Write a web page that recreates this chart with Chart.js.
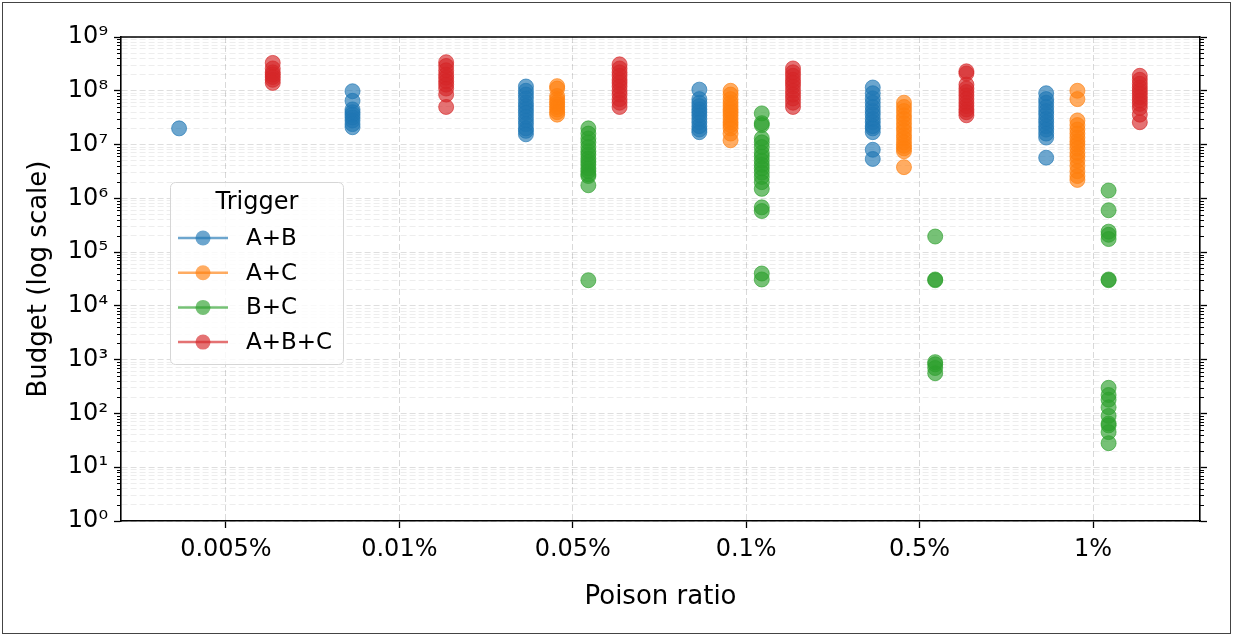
<!DOCTYPE html>
<html>
<head>
<meta charset="utf-8">
<script src="https://cdn.jsdelivr.net/npm/chart.js@4.4.1/dist/chart.umd.min.js"></script>
<style>
  body { margin: 0; background: #fff; }
</style>
</head>
<body>
<canvas id="chart" width="1233" height="635"></canvas>
<script>
var categories = ["0.005%", "0.01%", "0.05%", "0.1%", "0.5%", "1%"];
var triggers = ["A+B", "A+C", "B+C", "A+B+C"];
var yTickLabels = ["10\u2070", "10\u00b9", "10\u00b2", "10\u00b3", "10\u2074", "10\u2075", "10\u2076", "10\u2077", "10\u2078", "10\u2079"];

// budget values per poison ratio (one inner list per category)
var budgetAB = [
  [2.0e7],
  [9.8e7, 6.5e7, 4.5e7, 4.0e7, 3.6e7, 3.2e7, 2.8e7, 2.4e7, 2.1e7],
  [1.2e8, 1.0e8, 8.5e7, 7.2e7, 6.0e7, 5.2e7, 4.5e7, 3.9e7, 3.3e7, 2.8e7, 2.4e7, 2.0e7, 1.8e7, 1.55e7],
  [1.05e8, 7.0e7, 6.0e7, 5.2e7, 4.5e7, 4.0e7, 3.5e7, 3.0e7, 2.6e7, 2.2e7, 1.9e7, 1.7e7],
  [1.15e8, 9.0e7, 7.2e7, 6.0e7, 5.0e7, 4.2e7, 3.6e7, 3.0e7, 2.6e7, 2.2e7, 2.0e7, 1.7e7, 8.0e6, 5.4e6],
  [9.0e7, 7.0e7, 6.0e7, 5.0e7, 4.2e7, 3.6e7, 3.0e7, 2.6e7, 2.2e7, 1.9e7, 1.6e7, 1.35e7, 5.7e6]
];
var budgetAC = [
  [],
  [],
  [1.22e8, 1.1e8, 8.0e7, 7.0e7, 6.2e7, 5.6e7, 5.0e7, 4.5e7, 4.0e7, 3.6e7],
  [1.0e8, 8.5e7, 7.0e7, 6.0e7, 5.2e7, 4.5e7, 4.0e7, 3.5e7, 3.0e7, 2.6e7, 2.3e7, 2.0e7, 1.6e7, 1.2e7],
  [6.0e7, 5.0e7, 4.2e7, 3.5e7, 3.0e7, 2.5e7, 2.1e7, 1.8e7, 1.5e7, 1.3e7, 1.1e7, 9.5e6, 8.5e6, 7.5e6, 3.8e6],
  [1.0e8, 7.0e7, 2.8e7, 2.3e7, 1.9e7, 1.6e7, 1.35e7, 1.15e7, 1.0e7, 8.5e6, 7.0e6, 6.0e6, 5.0e6, 4.0e6, 3.2e6, 2.6e6, 2.2e6]
];
var budgetBC = [
  [],
  [],
  [2.0e7, 1.6e7, 1.3e7, 1.1e7, 9.0e6, 7.5e6, 6.5e6, 5.5e6, 4.8e6, 4.2e6, 3.6e6, 3.2e6, 2.8e6, 2.6e6, 1.75e6, 3.0e4],
  [3.8e7, 2.5e7, 2.3e7, 1.3e7, 1.1e7, 9.0e6, 7.0e6, 6.0e6, 5.0e6, 4.2e6, 3.6e6, 3.0e6, 2.5e6, 2.0e6, 1.5e6, 6.8e5, 5.8e5, 4.0e4, 3.1e4],
  [1.95e5, 3.1e4, 3.0e4, 900, 820, 700, 560],
  [1.4e6, 6.0e5, 2.4e5, 2.1e5, 1.75e5, 3.1e4, 3.0e4, 300, 220, 180, 130, 90, 65, 60, 45, 28]
];
var budgetABC = [
  [3.3e8, 2.6e8, 2.2e8, 2.0e8, 1.8e8, 1.6e8, 1.4e8],
  [3.4e8, 2.9e8, 2.4e8, 2.0e8, 1.75e8, 1.5e8, 1.3e8, 1.1e8, 8.5e7, 5.0e7],
  [3.1e8, 2.6e8, 2.2e8, 1.9e8, 1.6e8, 1.4e8, 1.2e8, 1.0e8, 8.5e7, 7.0e7, 6.0e7, 5.0e7],
  [2.6e8, 2.2e8, 1.9e8, 1.6e8, 1.4e8, 1.2e8, 1.0e8, 8.5e7, 7.2e7, 6.0e7, 5.0e7],
  [2.3e8, 2.1e8, 1.3e8, 1.1e8, 9.5e7, 8.2e7, 7.0e7, 6.0e7, 5.2e7, 4.5e7, 4.0e7, 3.5e7],
  [1.9e8, 1.6e8, 1.35e8, 1.15e8, 1.0e8, 8.8e7, 7.6e7, 6.6e7, 5.7e7, 4.8e7, 3.6e7, 2.6e7]
];

var series = [budgetAB, budgetAC, budgetBC, budgetABC];
var colors = ["31,119,180", "255,127,14", "44,160,44", "214,39,40"];
var dodge = 0.18;
var FONT = "'DejaVu Sans', sans-serif";

Chart.defaults.font.family = FONT;
Chart.defaults.color = "#000";

//Spread the four triggers side by side inside each category
var datasets = [];
for(var j = 0; j < series.length; j++) {
  var pts = [];
  for(var i = 0; i < categories.length; i++) {
    for(var k = 0; k < series[j][i].length; k++) {
      pts.push({x: i + (j - 1.5) * dodge, y: series[j][i][k]});
    }
  }
  datasets.push({
    label: triggers[j],
    data: pts,
    backgroundColor: "rgba(" + colors[j] + ",0.65)",
    borderColor: "rgba(" + colors[j] + ",0.65)",
    borderWidth: 1,
    pointRadius: 7.5
  });
}

//log ticks 1..9 per decade, like matplotlib minor ticks
function logTicks(scale) {
  var t = [];
  for(var e = 0; e < 9; e++) {
    for(var m = 1; m < 10; m++) {
      t.push({value: m * Math.pow(10, e), major: m == 1});
    }
  }
  t.push({value: 1e9, major: true});
  scale.ticks = t;
}

function gridColor(ctx) {
  if(ctx.tick && ctx.tick.major) return "rgba(0,0,0,0.13)";
  return "rgba(0,0,0,0.07)";
}

function majorTickColor(ctx) {
  return ctx.tick && ctx.tick.major ? "#000" : "rgba(0,0,0,0)";
}

//box, minor ticks, figure frame and legend
var extras = {
  id: "extras",
  afterDraw: function(chart) {
    var ctx = chart.ctx;
    var a = chart.chartArea;
    var y = chart.scales.y;
    ctx.save();

    ctx.strokeStyle = "#000";
    ctx.lineWidth = 1;
    for(var i = 0; i < y.ticks.length; i++) {
      if(y.ticks[i].major) continue;
      var py = Math.round(y.getPixelForValue(y.ticks[i].value)) + 0.5;
      ctx.beginPath();
      ctx.moveTo(a.left - 4, py); ctx.lineTo(a.left, py);
      ctx.moveTo(a.right, py); ctx.lineTo(a.right + 4, py);
      ctx.stroke();
    }

    ctx.lineWidth = 1.6;
    ctx.beginPath();
    ctx.moveTo(a.left, a.top);
    ctx.lineTo(a.right, a.top);
    ctx.stroke();

    ctx.lineWidth = 1;
    ctx.strokeStyle = "#444";
    ctx.strokeRect(2.5, 2.5, 1228, 631);

    // legend
    var lx = 170, ly = 182, lw = 173, lh = 182;
    ctx.beginPath();
    ctx.roundRect(lx + 0.5, ly + 0.5, lw, lh, 5);
    ctx.fillStyle = "rgba(255,255,255,0.8)";
    ctx.fill();
    ctx.strokeStyle = "#d6d6d6";
    ctx.stroke();

    ctx.fillStyle = "#000";
    ctx.font = "24px " + FONT;
    ctx.textAlign = "center";
    ctx.textBaseline = "middle";
    ctx.fillText("Trigger", lx + 87, ly + 21);

    ctx.font = "23px " + FONT;
    ctx.textAlign = "left";
    var ds = chart.data.datasets;
    for(var j = 0; j < ds.length; j++) {
      var ry = ly + 56 + j * 34.7;
      ctx.strokeStyle = ds[j].borderColor;
      ctx.lineWidth = 2.5;
      ctx.beginPath();
      ctx.moveTo(lx + 8, ry); ctx.lineTo(lx + 58, ry);
      ctx.stroke();
      ctx.fillStyle = ds[j].backgroundColor;
      ctx.beginPath();
      ctx.arc(lx + 33, ry, 7.5, 0, Math.PI * 2);
      ctx.fill();
      ctx.fillStyle = "#000";
      ctx.fillText(ds[j].label, lx + 76, ry + 1);
    }
    ctx.restore();
  }
};

new Chart(document.getElementById("chart"), {
  type: "scatter",
  data: { datasets: datasets },
  plugins: [extras],
  options: {
    responsive: false,
    animation: false,
    layout: { padding: { top: 37, left: 0, right: 0, bottom: 0 } },
    plugins: { legend: { display: false }, tooltip: { enabled: false } },
    scales: {
      x: {
        type: "linear",
        position: "bottom",
        min: -0.605,
        max: 5.617,
        afterBuildTicks: function(s) { s.ticks = categories.map(function(c, i) { return {value: i}; }); },
        afterFit: function(s) { s.height = 114; },
        ticks: {
          callback: function(v) { return categories[v]; },
          font: { size: 24 },
          padding: 7,
          autoSkip: false,
          maxRotation: 0
        },
        grid: { color: "rgba(0,0,0,0.15)", lineWidth: 1, tickLength: 7, tickColor: "#000", tickWidth: 1.3 },
        border: { color: "#000", width: 1.6, dash: [6, 3] },
        title: { display: true, text: "Poison ratio", font: { size: 26 }, padding: { top: 0, bottom: 22 } }
      },
      y: {
        type: "logarithmic",
        position: "left",
        min: 1,
        max: 1e9,
        afterBuildTicks: logTicks,
        afterFit: function(s) { s.width = 121; },
        ticks: {
          autoSkip: false,
          font: { size: 24 },
          padding: 6,
          callback: function(v, i, t) {
            return t[i].major ? yTickLabels[Math.round(Math.log10(v))] : "";
          }
        },
        grid: { color: gridColor, lineWidth: 1, tickLength: 7, tickColor: majorTickColor, tickWidth: 1.3 },
        border: { color: "#000", width: 1.6, dash: [6, 3] },
        title: { display: true, text: "Budget (log scale)", font: { size: 26 }, padding: { top: 24, bottom: 0 } }
      },
      y2: {
        type: "logarithmic",
        position: "right",
        min: 1,
        max: 1e9,
        afterBuildTicks: logTicks,
        afterFit: function(s) { s.width = 33; },
        ticks: { display: false, autoSkip: false },
        grid: { drawOnChartArea: false, tickLength: 7, tickColor: majorTickColor, tickWidth: 1.3 },
        border: { color: "#000", width: 1.6 }
      }
    }
  }
});
</script>
</body>
</html>
